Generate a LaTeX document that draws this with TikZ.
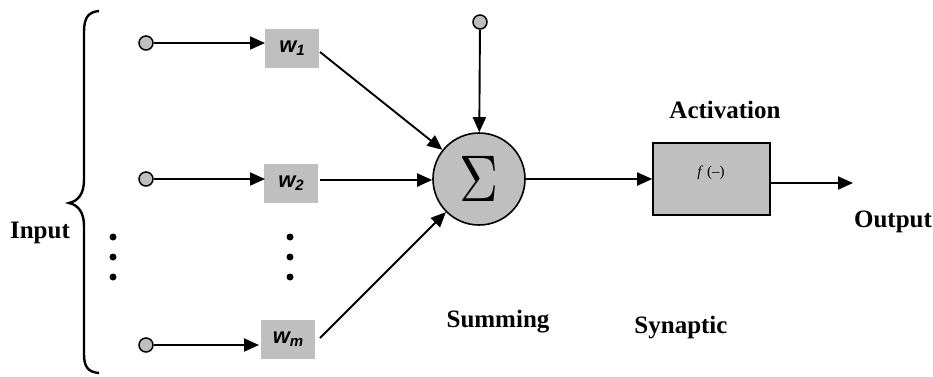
\documentclass[tikz,border=0pt]{standalone}
\usepackage{fontspec}
\setmainfont{Liberation Serif}
\newfontfamily\wfont{Liberation Sans}
\usetikzlibrary{arrows.meta}
\begin{document}
\begin{tikzpicture}[x=1pt,y=-1pt,
  line width=1.9pt,
  arr/.style={-{Triangle[length=15pt,width=13pt]}},
  inp/.style={circle,draw,fill=black!25,minimum size=14pt,inner sep=0pt,line width=1.5pt},
  wbox/.style={rectangle,fill=black!25,minimum width=54pt,minimum height=39pt,inner sep=0pt,font=\wfont\bfseries\itshape\fontsize{22}{22}\selectfont},
  lbl/.style={font=\bfseries\fontsize{25}{27}\selectfont,inner sep=0pt},
  dot/.style={circle,fill=black,minimum size=7pt,inner sep=0pt}]
\useasboundingbox (0,0) rectangle (933,376);
% brace
\draw[line width=2.4pt] (99,11) .. controls (88,12) and (84,18) .. (84,32)
  -- (84,180) .. controls (84,194) and (78,201) .. (69,203)
  .. controls (78,205) and (84,212) .. (84,226)
  -- (84,354) .. controls (84,367) and (88,372) .. (99,373);
\node[lbl] (input) at (40,233) {Input};
\node[dot] (ld1) at (113,237) {};
\node[dot] (ld2) at (113,257) {};
\node[dot] (ld3) at (113,277) {};
\node[dot] (md1) at (290,237) {};
\node[dot] (md2) at (290,257) {};
\node[dot] (md3) at (290,277) {};
% inputs
\node[inp] (x1) at (146,43) {};
\node[inp] (x2) at (146,179) {};
\node[inp] (xm) at (146,345) {};
\node[wbox] (w1) at (292,48.5) {w\raisebox{-3pt}{\fontsize{15}{15}\selectfont 1}};
\node[wbox] (w2) at (291,183.5) {w\raisebox{-3pt}{\fontsize{15}{15}\selectfont 2}};
\node[wbox] (wm) at (288,339) {w\raisebox{-3pt}{\fontsize{15}{15}\selectfont m}};
\coordinate (e1) at (265,43);
\coordinate (e2) at (265,179);
\coordinate (em) at (259,345);
\draw[arr] (x1) -- (e1);
\draw[arr] (x2) -- (e2);
\draw[arr] (xm) -- (em);
% summing
\node[circle,draw,fill=black!25,minimum size=92pt,inner sep=0pt,line width=1.6pt] (sum) at (479,179)
  {\scalebox{5.4}[6.6]{$\Sigma$}};
\node[inp] (bias) at (480,22) {};
\draw[arr] (bias) -- (sum);
\coordinate (o1) at (320,52);
\coordinate (o2) at (320,180);
\coordinate (om) at (320,338);
\draw[arr] (o1) -- (sum);
\draw[arr] (o2) -- (sum.west|-o2);
\draw[arr] (om) -- (sum);
% activation
\node[rectangle,draw,fill=black!25,minimum width=117pt,minimum height=72pt,inner sep=0pt,line width=1.6pt] (act) at (711.5,179) {};
\node[inner sep=0pt] (fx) at (711,173) {\scalebox{1.5}{\textit{f} (\textendash)}};
\draw[arr] (sum.east) -- (act.west);
\coordinate (out) at (853,183);
\draw[arr] (act.east|-out) -- (out);
\node[lbl] (lact) at (725,110) {Activation};
\node[lbl] (lout) at (893,222) {Output};
\node[lbl] (lsum) at (498,322) {Summing};
\node[lbl] (lsyn) at (681,328) {Synaptic};
\end{tikzpicture}
\end{document}
